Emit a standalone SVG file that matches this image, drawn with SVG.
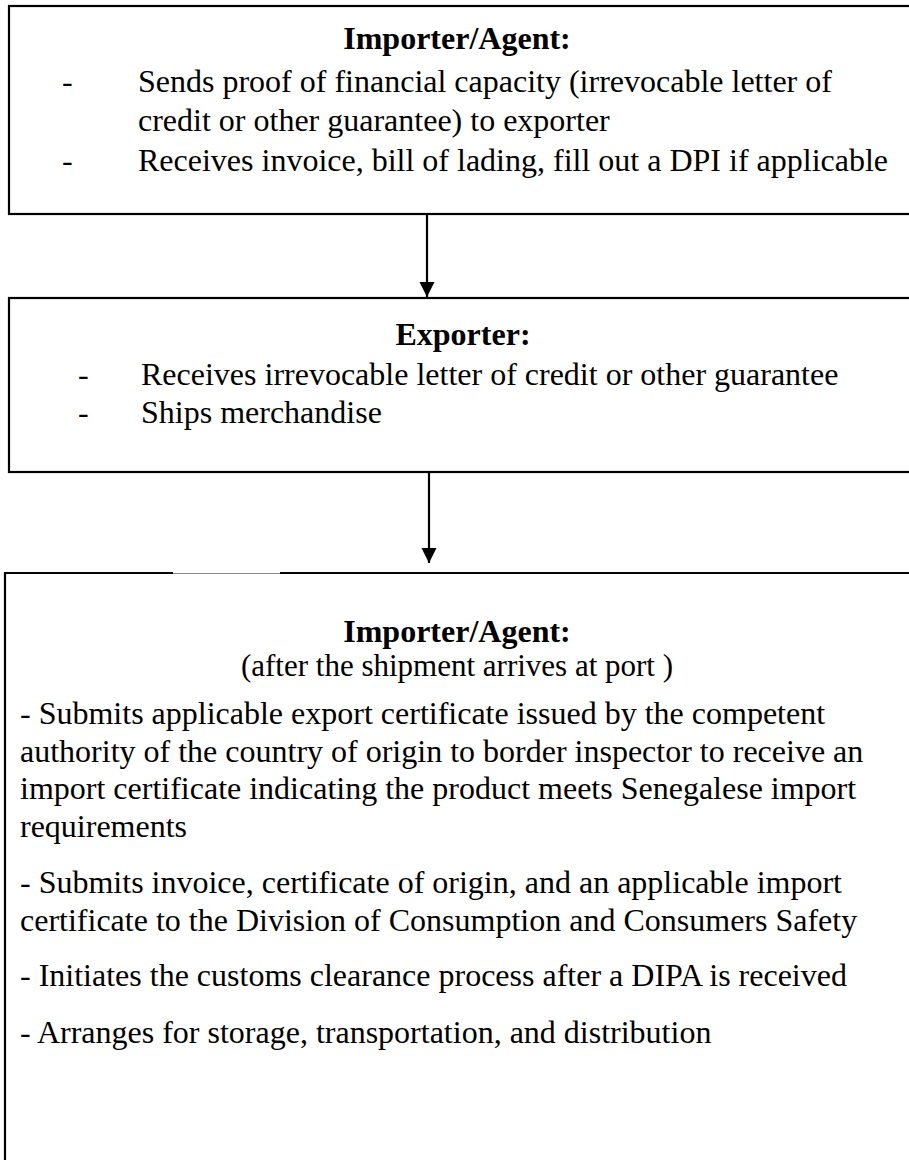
<svg xmlns="http://www.w3.org/2000/svg" width="909" height="1160" viewBox="0 0 909 1160">
<defs>
<style>
.box{fill:#fff;stroke:#000;stroke-width:2.2}
.t{font-family:"Liberation Serif","Times New Roman",serif;font-size:32px;fill:#000}
.s{font-size:31px}
.b{font-weight:bold}
.c{text-anchor:middle}
.conn{stroke:#000;stroke-width:2.2;fill:none}
</style>
<marker id="ah" viewBox="0 0 10 10" refX="10" refY="5" markerWidth="7" markerHeight="7.5" markerUnits="strokeWidth" orient="auto">
<path d="M0,0 L10,5 L0,10 z" fill="#000"/>
</marker>
</defs>
<rect width="909" height="1160" fill="#fff"/>
<g id="node1">
<rect class="box" x="9" y="6" width="910" height="208"/>
<text class="t b c" x="457" y="49">Importer/Agent:</text>
<text class="t" x="62" y="92">-</text>
<text class="t" x="138" y="92">Sends proof of financial capacity (irrevocable letter of</text>
<text class="t" x="138" y="131">credit or other guarantee) to exporter</text>
<text class="t" x="62" y="171">-</text>
<text class="t" x="138" y="171">Receives invoice, bill of lading, fill out a DPI if applicable</text>
</g>
<g id="node2">
<rect class="box" x="9" y="298" width="910" height="174"/>
<text class="t b c" x="463" y="345">Exporter:</text>
<text class="t" x="78" y="385">-</text>
<text class="t" x="141" y="385">Receives irrevocable letter of credit or other guarantee</text>
<text class="t" x="78" y="423">-</text>
<text class="t" x="141" y="423">Ships merchandise</text>
</g>
<g id="node3">
<path d="M5,1170 V573 H173 M280,573 H915" fill="none" stroke="#000" stroke-width="2.2"/>
<line x1="173" y1="573.5" x2="280" y2="573.5" stroke="#888" stroke-width="1"/>
<text class="t b c" x="457" y="642">Importer/Agent:</text>
<text class="t s c" x="457" y="676">(after the shipment arrives at port )</text>
<text class="t" x="20" y="724">- Submits applicable export certificate issued by the competent</text>
<text class="t" x="20" y="762">authority of the country of origin to border inspector to receive an</text>
<text class="t" x="20" y="799">import certificate indicating the product meets Senegalese import</text>
<text class="t" x="20" y="837">requirements</text>
<text class="t" x="20" y="893">- Submits invoice, certificate of origin, and an applicable import</text>
<text class="t" x="20" y="931">certificate to the Division of Consumption and Consumers Safety</text>
<text class="t" x="20" y="986">- Initiates the customs clearance process after a DIPA is received</text>
<text class="t" x="20" y="1043">- Arranges for storage, transportation, and distribution</text>
</g>
<g id="connectors">
<line class="conn" x1="427" y1="215" x2="427" y2="297" marker-end="url(#ah)"/>
<line class="conn" x1="429" y1="473" x2="429" y2="563" marker-end="url(#ah)"/>
</g>
</svg>
